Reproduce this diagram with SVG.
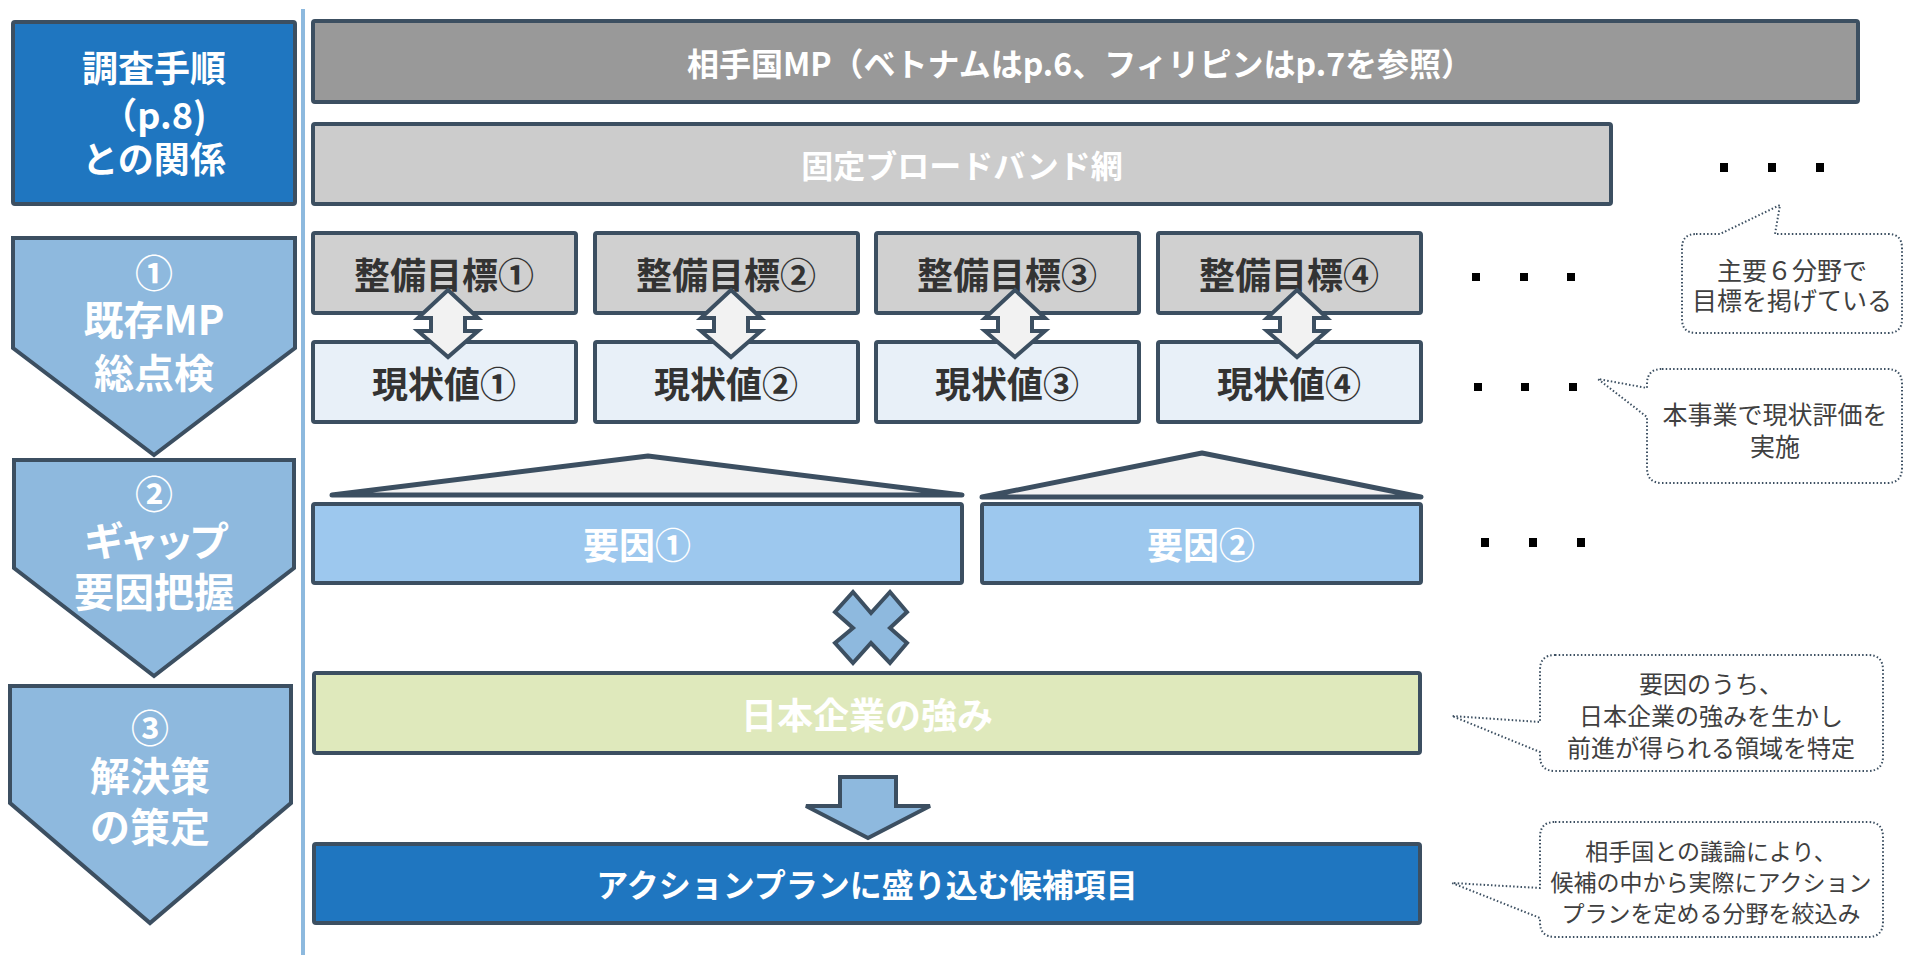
<svg xmlns="http://www.w3.org/2000/svg" width="1905" height="955" viewBox="0 0 1905 955">
<style>
.bx{stroke:#3c4f61;stroke-width:4;stroke-linejoin:miter}
.t{font-family:"Noto Sans CJK JP","Noto Sans",sans-serif;font-weight:700;text-anchor:middle;dominant-baseline:central}
.w{fill:#ffffff}
.d{fill:#333333}
.c{font-family:"Noto Sans CJK JP","Noto Sans",sans-serif;font-weight:400;text-anchor:middle;dominant-baseline:central;fill:#404040}
.co{fill:#ffffff;stroke:#3c4f61;stroke-width:2;stroke-dasharray:1.5 2.2;stroke-linejoin:round}
.ar{fill:#f2f2f2;stroke:#3c4f61;stroke-width:4;stroke-linejoin:miter}
.ab{fill:#8eb9de;stroke:#3c4f61;stroke-width:4;stroke-linejoin:miter}
.dot{fill:#000000}
</style>
<rect width="1905" height="955" fill="#ffffff"/>
<line x1="303" y1="9" x2="303" y2="955" stroke="#8db9de" stroke-width="4"/>

<g id="step-header">
<rect class="bx" x="13" y="22" width="282" height="182" rx="2" fill="#1f76c0"/>
<text class="t w" x="154" y="66" font-size="36">調査手順</text>
<text class="t w" x="154" y="113" font-size="36">（p.8)</text>
<text class="t w" x="154" y="157" font-size="36">との関係</text>
</g>
<g id="step1">
<polygon class="bx" points="13,238 295,238 295,348 154,455 13,348" fill="#8eb9de"/>
<text class="t w" x="154" y="270" font-size="38">①</text>
<text class="t w" x="154" y="318" font-size="40">既存MP</text>
<text class="t w" x="154" y="371" font-size="40">総点検</text>
</g>
<g id="step2">
<polygon class="bx" points="14,460 294,460 294,568 154,676 14,568" fill="#8eb9de"/>
<text class="t w" x="154" y="491" font-size="38">②</text>
<text class="t w" x="154" y="539" font-size="40" letter-spacing="-5">ギャップ</text>
<text class="t w" x="154" y="590" font-size="40">要因把握</text>
</g>
<g id="step3">
<polygon class="bx" points="10,686 291,686 291,803 150,923 10,803" fill="#8eb9de"/>
<text class="t w" x="150" y="725" font-size="38">③</text>
<text class="t w" x="150" y="774" font-size="40">解決策</text>
<text class="t w" x="150" y="825" font-size="40">の策定</text>
</g>

<g id="partner-mp">
<rect class="bx" x="313" y="21" width="1545" height="81" rx="2" fill="#999999"/>
<text class="t w" x="1080" y="62" font-size="32">相手国MP（ベトナムはp.6、フィリピンはp.7を参照）</text>
</g>
<g id="broadband">
<rect class="bx" x="313" y="124" width="1298" height="80" rx="2" fill="#cccccc"/>
<text class="t w" x="962" y="164" font-size="32">固定ブロードバンド網</text>
</g>

<g id="target1"><rect class="bx" x="313" y="233" width="263" height="80" rx="2" fill="#d0d0d0"/><text class="t d" x="444" y="273" font-size="36">整備目標①</text></g>
<g id="target2"><rect class="bx" x="595" y="233" width="263" height="80" rx="2" fill="#d0d0d0"/><text class="t d" x="726" y="273" font-size="36">整備目標②</text></g>
<g id="target3"><rect class="bx" x="876" y="233" width="263" height="80" rx="2" fill="#d0d0d0"/><text class="t d" x="1007" y="273" font-size="36">整備目標③</text></g>
<g id="target4"><rect class="bx" x="1158" y="233" width="263" height="80" rx="2" fill="#d0d0d0"/><text class="t d" x="1289" y="273" font-size="36">整備目標④</text></g>

<g id="current1"><rect class="bx" x="313" y="342" width="263" height="80" rx="2" fill="#e8f0f8"/><text class="t d" x="444" y="382" font-size="36">現状値①</text></g>
<g id="current2"><rect class="bx" x="595" y="342" width="263" height="80" rx="2" fill="#e8f0f8"/><text class="t d" x="726" y="382" font-size="36">現状値②</text></g>
<g id="current3"><rect class="bx" x="876" y="342" width="263" height="80" rx="2" fill="#e8f0f8"/><text class="t d" x="1007" y="382" font-size="36">現状値③</text></g>
<g id="current4"><rect class="bx" x="1158" y="342" width="263" height="80" rx="2" fill="#e8f0f8"/><text class="t d" x="1289" y="382" font-size="36">現状値④</text></g>

<g id="roof1"><polygon points="332,495 648,456 962,495" fill="#f2f2f2" stroke="#3c4f61" stroke-width="5" stroke-linejoin="round"/></g>
<g id="roof2"><polygon points="982,497 1202,453 1421,497" fill="#f2f2f2" stroke="#3c4f61" stroke-width="5" stroke-linejoin="round"/></g>

<g id="factor1"><rect class="bx" x="313" y="504" width="649" height="79" rx="2" fill="#9dc8ee"/><text class="t w" x="637" y="543" font-size="36">要因①</text></g>
<g id="factor2"><rect class="bx" x="982" y="504" width="439" height="79" rx="2" fill="#9dc8ee"/><text class="t w" x="1201" y="543" font-size="36">要因②</text></g>

<g id="times">
<polygon class="ab" points="853,592 871,613 890,592 907,612 890,628 907,643 890,663 871,643 853,663 835,643 853,628 835,612"/>
</g>

<g id="japan-strength"><rect class="bx" x="314" y="673" width="1106" height="80" rx="2" fill="#dfe9bc"/><text class="t w" x="867" y="713" font-size="36">日本企業の強み</text></g>
<g id="action-plan"><rect class="bx" x="314" y="844" width="1106" height="79" rx="2" fill="#1f76c0"/><text class="t w" x="867" y="883" font-size="32">アクションプランに盛り込む候補項目</text></g>

<g id="connectors">
<polygon class="ar" points="448,290 478,318 465,318 465,331 478,331 448,357 418,331 431,331 431,318 418,318"/>
<polygon class="ar" points="731,290 761,318 748,318 748,331 761,331 731,357 701,331 714,331 714,318 701,318"/>
<polygon class="ar" points="1015,290 1045,318 1032,318 1032,331 1045,331 1015,357 985,331 998,331 998,318 985,318"/>
<polygon class="ar" points="1297,290 1327,318 1314,318 1314,331 1327,331 1297,357 1267,331 1280,331 1280,318 1267,318"/>
<polygon class="ab" points="840,777 896,777 896,806 930,806 868,838 806,806 840,806"/>
</g>

<g id="ellipses">
<rect class="dot" x="1720" y="163" width="8" height="9"/><rect class="dot" x="1768" y="163" width="8" height="9"/><rect class="dot" x="1816" y="163" width="8" height="9"/>
<rect class="dot" x="1472" y="273" width="8" height="8"/><rect class="dot" x="1520" y="273" width="8" height="8"/><rect class="dot" x="1567" y="273" width="8" height="8"/>
<rect class="dot" x="1474" y="383" width="8" height="8"/><rect class="dot" x="1521" y="383" width="8" height="8"/><rect class="dot" x="1569" y="383" width="8" height="8"/>
<rect class="dot" x="1481" y="538" width="8" height="9"/><rect class="dot" x="1529" y="538" width="8" height="9"/><rect class="dot" x="1577" y="538" width="8" height="9"/>
</g>

<g id="note1">
<path class="co" d="M1696,234 L1720,234 L1780,205 L1775,234 L1888,234 Q1902,234 1902,248 L1902,319 Q1902,333 1888,333 L1696,333 Q1682,333 1682,319 L1682,248 Q1682,234 1696,234 Z"/>
<text class="c" x="1792" y="269" font-size="25">主要６分野で</text>
<text class="c" x="1792" y="299" font-size="25">目標を掲げている</text>
</g>
<g id="note2">
<path class="co" d="M1662,369 L1887,369 Q1902,369 1902,384 L1902,468 Q1902,483 1887,483 L1662,483 Q1647,483 1647,468 L1647,417 L1598,379 L1647,388 L1647,384 Q1647,369 1662,369 Z"/>
<text class="c" x="1775" y="413" font-size="25">本事業で現状評価を</text>
<text class="c" x="1775" y="445" font-size="25">実施</text>
</g>
<g id="note3">
<path class="co" d="M1555,655 L1868,655 Q1883,655 1883,670 L1883,756 Q1883,771 1868,771 L1555,771 Q1540,771 1540,756 L1540,752 L1452,716 L1540,722 L1540,670 Q1540,655 1555,655 Z"/>
<text class="c" x="1711" y="682" font-size="24">要因のうち、</text>
<text class="c" x="1711" y="714" font-size="24">日本企業の強みを生かし</text>
<text class="c" x="1711" y="746" font-size="24">前進が得られる領域を特定</text>
</g>
<g id="note4">
<path class="co" d="M1555,822 L1868,822 Q1883,822 1883,837 L1883,922 Q1883,937 1868,937 L1555,937 Q1540,937 1540,922 L1540,918 L1452,883 L1540,888 L1540,837 Q1540,822 1555,822 Z"/>
<text class="c" x="1711" y="850" font-size="23">相手国との議論により、</text>
<text class="c" x="1711" y="881" font-size="23">候補の中から実際にアクション</text>
<text class="c" x="1711" y="912" font-size="23">プランを定める分野を絞込み</text>
</g>
</svg>
